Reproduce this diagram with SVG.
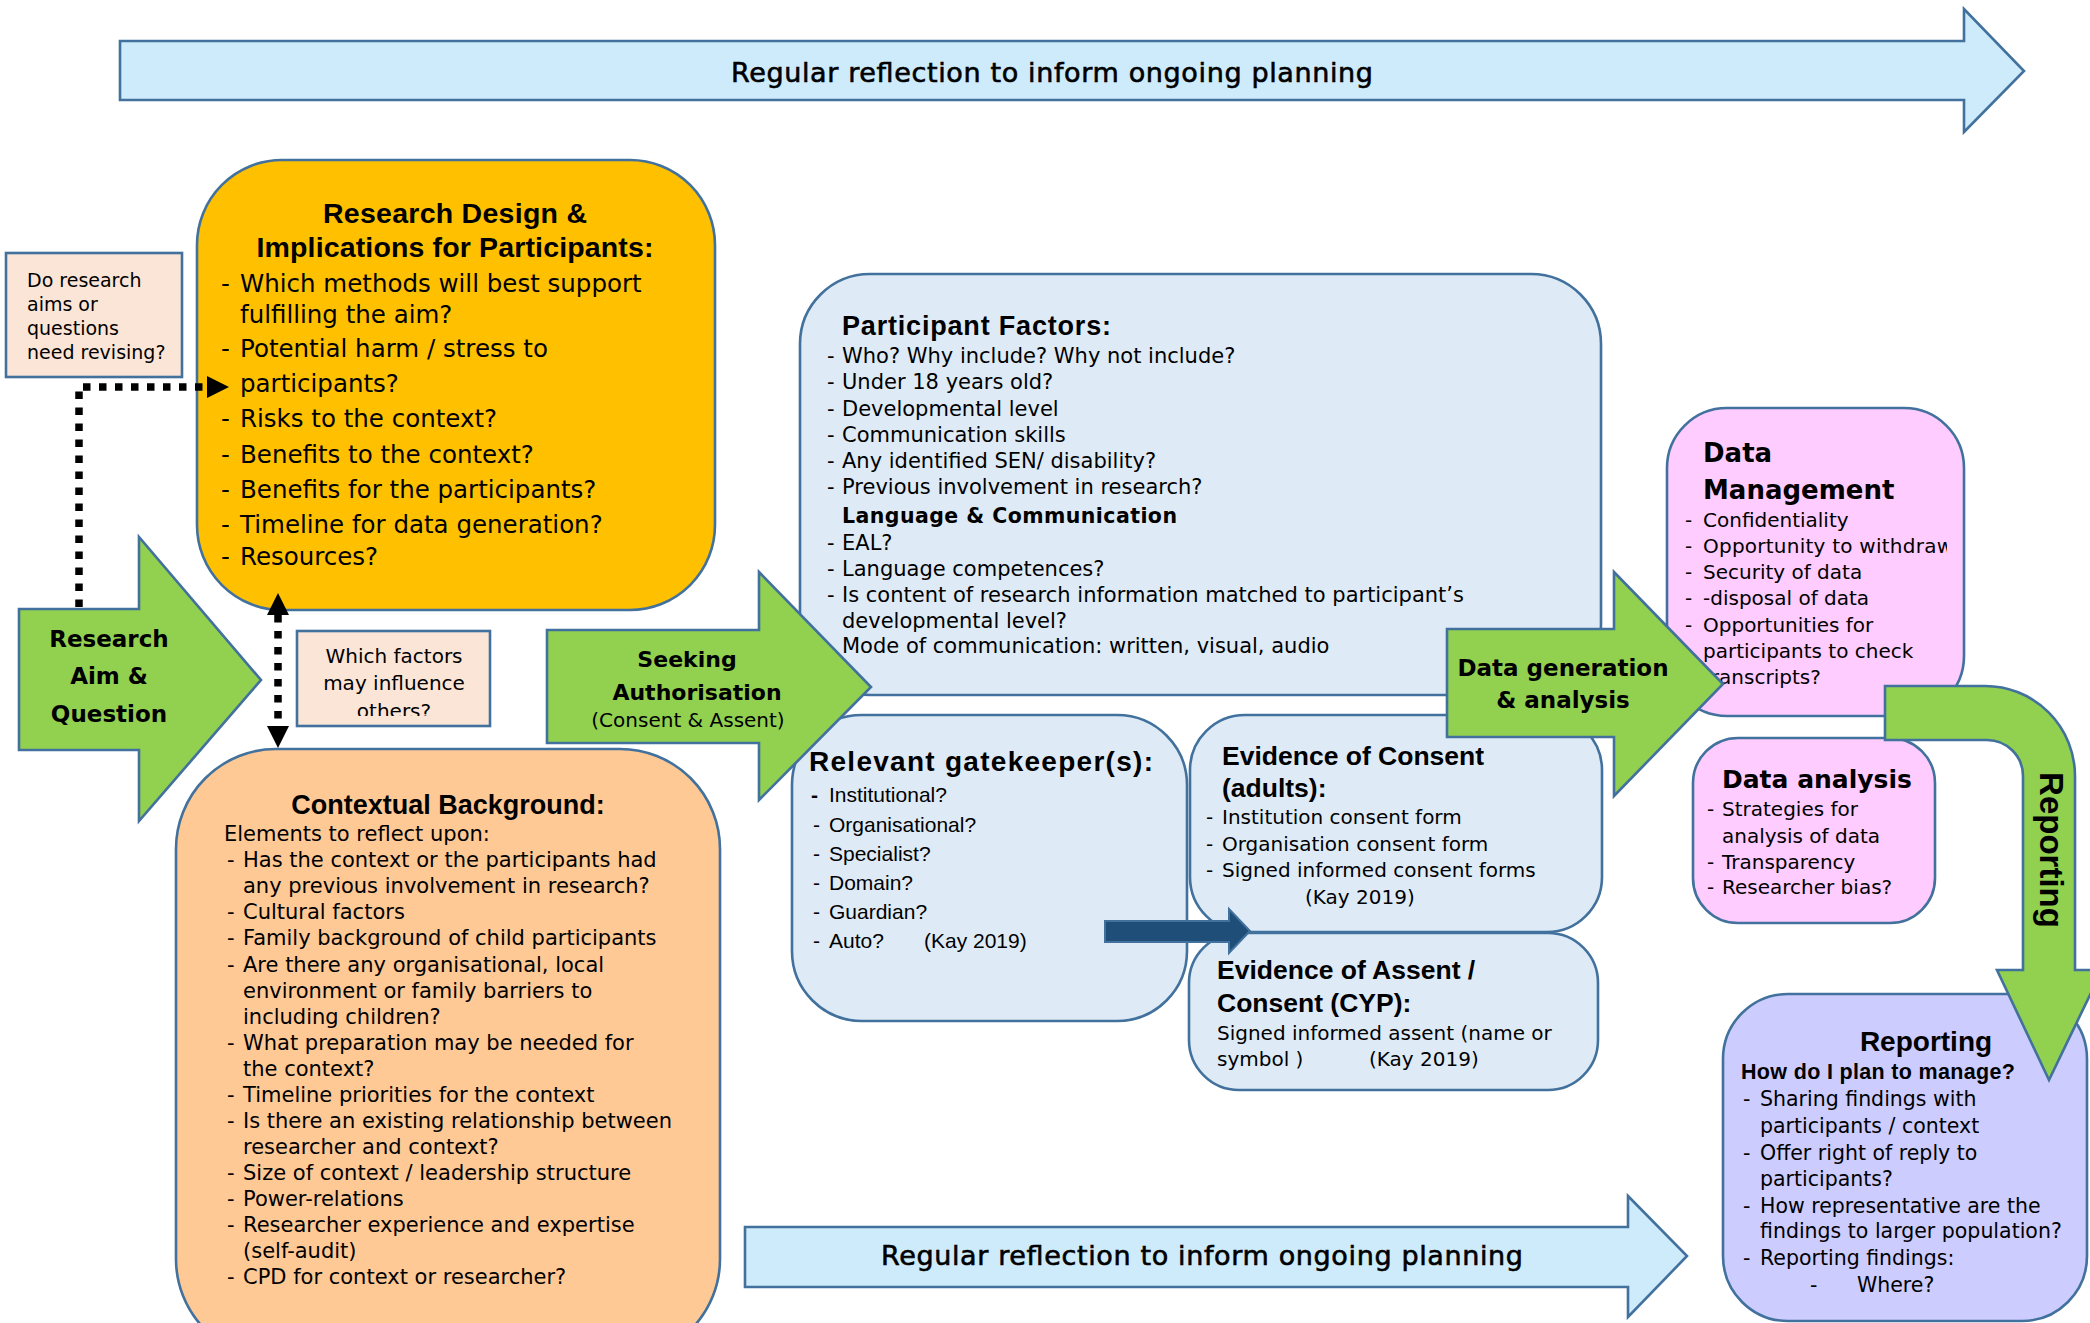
<svg xmlns="http://www.w3.org/2000/svg" width="2090" height="1323" viewBox="0 0 2090 1323">
  <style>
    .ln { stroke: #41719C; stroke-width: 2.6; }
    .sky { fill: #CDEBFB; }
    .grn { fill: #92D050; }
    .blu { fill: #DEEBF7; }
    .note { fill: #FBE5D6; }
    .b { font-family: "DejaVu Sans", sans-serif; fill: #000; }
    .lb { font-family: "Liberation Sans", Arial, sans-serif; font-weight: bold; fill: #000; }
    .db { font-family: "DejaVu Sans", sans-serif; font-weight: bold; fill: #000; }
    .ls { font-family: "Liberation Sans", Arial, sans-serif; fill: #000; }
    .mid { text-anchor: middle; }
    .banner { font-family: "DejaVu Sans", sans-serif; fill: #000; stroke: #000; stroke-width: 0.6; text-anchor: middle; }
    .dots { fill: none; stroke: #000; stroke-width: 7.5; stroke-dasharray: 7.5 8.5; }
  </style>
  <defs>
    <marker id="tri" viewBox="0 0 22 22" markerWidth="22" markerHeight="22" refX="0" refY="11" orient="auto-start-reverse" markerUnits="userSpaceOnUse">
      <path d="M0,0 L22,11 L0,22 Z" fill="#000"/>
    </marker>
    <clipPath id="clipFactors"><rect x="297" y="631" width="193" height="85"/></clipPath>
    <clipPath id="clipMgmt"><rect x="1667" y="408" width="280" height="308"/></clipPath>
  </defs>

  <rect width="2090" height="1323" fill="#fff"/>

  <!-- reflection arrows -->
  <g id="reflection-top">
    <polygon class="sky ln" points="120,41 1964,41 1964,9 2024,71 1964,132 1964,100 120,100"/>
    <text class="banner" x="1052" y="82" font-size="27" textLength="642">Regular reflection to inform ongoing planning</text>
  </g>
  <g id="reflection-bottom">
    <polygon class="sky ln" points="745,1227 1628,1227 1628,1196 1687,1256 1628,1317 1628,1287 745,1287"/>
    <text class="banner" x="1202" y="1265" font-size="27" textLength="642">Regular reflection to inform ongoing planning</text>
  </g>

  <!-- research design -->
  <g id="research-design">
    <rect class="ln" x="197" y="160" width="518" height="450" rx="85" fill="#FFC000"/>
    <text class="lb mid" x="455" y="223" font-size="28.5" textLength="264">Research Design &amp;</text>
    <text class="lb mid" x="455" y="257" font-size="28.5" textLength="397">Implications for Participants:</text>
    <g class="b" font-size="24.5">
      <text x="221" y="292">-</text><text x="240" y="292">Which methods will best support</text>
      <text x="240" y="323">fulfilling the aim?</text>
      <text x="221" y="357">-</text><text x="240" y="357">Potential harm / stress to</text>
      <text x="240" y="392">participants?</text>
      <text x="221" y="427">-</text><text x="240" y="427">Risks to the context?</text>
      <text x="221" y="463">-</text><text x="240" y="463">Benefits to the context?</text>
      <text x="221" y="498">-</text><text x="240" y="498">Benefits for the participants?</text>
      <text x="221" y="533">-</text><text x="240" y="533">Timeline for data generation?</text>
      <text x="221" y="565">-</text><text x="240" y="565">Resources?</text>
    </g>
  </g>

  <!-- contextual background -->
  <g id="contextual-background">
    <rect class="ln" x="176" y="749" width="544" height="610" rx="100" fill="#FFC995"/>
    <text class="lb mid" x="448" y="814" font-size="27">Contextual Background:</text>
    <g class="b" font-size="21">
      <text x="224" y="841">Elements to reflect upon:</text>
      <text x="227" y="867">-</text><text x="243" y="867">Has the context or the participants had</text>
      <text x="243" y="893">any previous involvement in research?</text>
      <text x="227" y="919">-</text><text x="243" y="919">Cultural factors</text>
      <text x="227" y="945">-</text><text x="243" y="945">Family background of child participants</text>
      <text x="227" y="972">-</text><text x="243" y="972">Are there any organisational, local</text>
      <text x="243" y="998">environment or family barriers to</text>
      <text x="243" y="1024">including children?</text>
      <text x="227" y="1050">-</text><text x="243" y="1050">What preparation may be needed for</text>
      <text x="243" y="1076">the context?</text>
      <text x="227" y="1102">-</text><text x="243" y="1102">Timeline priorities for the context</text>
      <text x="227" y="1128">-</text><text x="243" y="1128">Is there an existing relationship between</text>
      <text x="243" y="1154">researcher and context?</text>
      <text x="227" y="1180">-</text><text x="243" y="1180">Size of context / leadership structure</text>
      <text x="227" y="1206">-</text><text x="243" y="1206">Power-relations</text>
      <text x="227" y="1232">-</text><text x="243" y="1232">Researcher experience and expertise</text>
      <text x="243" y="1258">(self-audit)</text>
      <text x="227" y="1284">-</text><text x="243" y="1284">CPD for context or researcher?</text>
    </g>
  </g>

  <!-- prompt notes -->
  <g id="note-revise">
    <rect class="note ln" x="6" y="253" width="176" height="124"/>
    <g class="b" font-size="19">
      <text x="27" y="287">Do research</text>
      <text x="27" y="311">aims or</text>
      <text x="27" y="335">questions</text>
      <text x="27" y="359">need revising?</text>
    </g>
  </g>
  <g id="note-factors">
    <rect class="note ln" x="297" y="631" width="193" height="95"/>
    <g class="b mid" font-size="20" clip-path="url(#clipFactors)">
      <text x="394" y="663">Which factors</text>
      <text x="394" y="690">may influence</text>
      <text x="394" y="718">others?</text>
    </g>
  </g>

  <!-- participant factors -->
  <g id="participant-factors">
    <rect class="blu ln" x="800" y="274" width="801" height="421" rx="70"/>
    <text class="lb" x="842" y="335" font-size="27" textLength="269">Participant Factors:</text>
    <g class="b" font-size="21">
      <text x="827" y="363">-</text><text x="842" y="363">Who? Why include? Why not include?</text>
      <text x="827" y="389">-</text><text x="842" y="389">Under 18 years old?</text>
      <text x="827" y="416">-</text><text x="842" y="416">Developmental level</text>
      <text x="827" y="442">-</text><text x="842" y="442">Communication skills</text>
      <text x="827" y="468">-</text><text x="842" y="468">Any identified SEN/ disability?</text>
      <text x="827" y="494">-</text><text x="842" y="494">Previous involvement in research?</text>
      <text x="827" y="550">-</text><text x="842" y="550">EAL?</text>
      <text x="827" y="576">-</text><text x="842" y="576">Language competences?</text>
      <text x="827" y="602">-</text><text x="842" y="602">Is content of research information matched to participant’s</text>
      <text x="842" y="628">developmental level?</text>
      <text x="842" y="653">Mode of communication: written, visual, audio</text>
    </g>
    <text class="db" x="842" y="523" font-size="20.5" textLength="335">Language &amp; Communication</text>
  </g>

  <!-- gatekeepers -->
  <g id="gatekeepers">
    <rect class="blu ln" x="792" y="715" width="395" height="306" rx="70"/>
    <text class="lb" x="809" y="771" font-size="28" textLength="344">Relevant gatekeeper(s):</text>
    <text class="lb" x="811" y="802" font-size="21">-</text>
    <g class="ls" font-size="21">
      <text x="829" y="802">Institutional?</text>
      <text x="813" y="832">-</text><text x="829" y="832">Organisational?</text>
      <text x="813" y="861">-</text><text x="829" y="861">Specialist?</text>
      <text x="813" y="890">-</text><text x="829" y="890">Domain?</text>
      <text x="813" y="919">-</text><text x="829" y="919">Guardian?</text>
      <text x="813" y="948">-</text><text x="829" y="948">Auto?</text>
      <text x="924" y="948">(Kay 2019)</text>
    </g>
  </g>

  <!-- consent evidence -->
  <g id="consent-adults">
    <rect class="blu ln" x="1190" y="715" width="412" height="217" rx="55"/>
    <text class="lb" x="1222" y="765" font-size="26.5">Evidence of Consent</text>
    <text class="lb" x="1222" y="797" font-size="26.5">(adults):</text>
    <g class="b" font-size="20">
      <text x="1206" y="824">-</text><text x="1222" y="824">Institution consent form</text>
      <text x="1206" y="851">-</text><text x="1222" y="851">Organisation consent form</text>
      <text x="1206" y="877">-</text><text x="1222" y="877">Signed informed consent forms</text>
      <text x="1305" y="904">(Kay 2019)</text>
    </g>
  </g>
  <g id="assent-cyp">
    <rect class="blu ln" x="1189" y="933" width="409" height="157" rx="50"/>
    <text class="lb" x="1217" y="979" font-size="26.5">Evidence of Assent /</text>
    <text class="lb" x="1217" y="1012" font-size="26.5">Consent (CYP):</text>
    <g class="b" font-size="20">
      <text x="1217" y="1040">Signed informed assent (name or</text>
      <text x="1217" y="1066">symbol )</text>
      <text x="1369" y="1066">(Kay 2019)</text>
    </g>
  </g>

  <!-- data management -->
  <g id="data-management">
    <rect class="ln" x="1667" y="408" width="297" height="308" rx="60" fill="#FFCCFF"/>
    <text class="db" x="1703" y="462" font-size="26">Data</text>
    <text class="db" x="1703" y="499" font-size="26">Management</text>
    <g class="b" font-size="20" clip-path="url(#clipMgmt)">
      <text x="1685" y="527">-</text><text x="1703" y="527">Confidentiality</text>
      <text x="1685" y="553">-</text><text x="1703" y="553" textLength="250">Opportunity to withdraw</text>
      <text x="1685" y="579">-</text><text x="1703" y="579">Security of data</text>
      <text x="1685" y="605">-</text><text x="1703" y="605">-disposal of data</text>
      <text x="1685" y="632">-</text><text x="1703" y="632">Opportunities for</text>
      <text x="1703" y="658">participants to check</text>
      <text x="1703" y="684">transcripts?</text>
    </g>
  </g>
  <g id="data-analysis">
    <rect class="ln" x="1693" y="738" width="242" height="185" rx="45" fill="#FFCCFF"/>
    <text class="db" x="1722" y="788" font-size="25">Data analysis</text>
    <g class="b" font-size="20">
      <text x="1707" y="816">-</text><text x="1722" y="816">Strategies for</text>
      <text x="1722" y="843">analysis of data</text>
      <text x="1707" y="869">-</text><text x="1722" y="869">Transparency</text>
      <text x="1707" y="894">-</text><text x="1722" y="894">Researcher bias?</text>
    </g>
  </g>

  <!-- reporting -->
  <g id="reporting">
    <rect class="ln" x="1723" y="994" width="364" height="327" rx="65" fill="#CCCCFF"/>
    <text class="lb mid" x="1926" y="1051" font-size="28">Reporting</text>
    <text class="lb" x="1741" y="1079" font-size="21.5" textLength="274">How do I plan to manage?</text>
    <g class="b" font-size="20.5">
      <text x="1743" y="1106">-</text><text x="1760" y="1106">Sharing findings with</text>
      <text x="1760" y="1133">participants / context</text>
      <text x="1743" y="1160">-</text><text x="1760" y="1160">Offer right of reply to</text>
      <text x="1760" y="1186">participants?</text>
      <text x="1743" y="1213">-</text><text x="1760" y="1213">How representative are the</text>
      <text x="1760" y="1238">findings to larger population?</text>
      <text x="1743" y="1265">-</text><text x="1760" y="1265">Reporting findings:</text>
      <text x="1810" y="1292">-</text><text x="1857" y="1292">Where?</text>
    </g>
  </g>

  <!-- stage arrows -->
  <g id="research-aim">
    <polygon class="grn ln" points="19,609 139,609 139,537 261,680 139,821 139,750 19,750"/>
    <g class="db mid" font-size="23">
      <text x="109" y="647">Research</text>
      <text x="109" y="684">Aim &amp;</text>
      <text x="109" y="722">Question</text>
    </g>
  </g>
  <g id="seeking-authorisation">
    <polygon class="grn ln" points="547,630 759,630 759,572 871,687 759,800 759,743 547,743"/>
    <text class="db mid" x="687" y="667" font-size="22">Seeking</text>
    <text class="db mid" x="697" y="700" font-size="22">Authorisation</text>
    <text class="b mid" x="688" y="727" font-size="20">(Consent &amp; Assent)</text>
  </g>
  <g id="data-generation">
    <polygon class="grn ln" points="1447,629 1614,629 1614,572 1723,684 1614,796 1614,737 1447,737"/>
    <text class="db mid" x="1563" y="676" font-size="23">Data generation</text>
    <text class="db mid" x="1563" y="708" font-size="23">&amp; analysis</text>
  </g>
  <g id="reporting-arrow">
    <path class="grn ln" d="M1885,686 H1985 A90,90 0 0 1 2075,776 V970 H2102 L2049,1080 L1997,970 H2023 V776 A36,36 0 0 0 1987,740 H1885 Z"/>
    <text class="lb mid" transform="translate(2040,850) rotate(90)" font-size="33">Reporting</text>
  </g>

  <!-- connectors -->
  <g id="connectors">
    <path class="dots" d="M79,607 V387 H207" marker-end="url(#tri)"/>
    <path class="dots" d="M278,615 V726" marker-start="url(#tri)" marker-end="url(#tri)"/>
    <polygon points="1105,921 1229,921 1229,909 1250,931 1229,953 1229,942 1105,942" fill="#1F4E79" stroke="#41719C" stroke-width="2"/>
  </g>
</svg>
